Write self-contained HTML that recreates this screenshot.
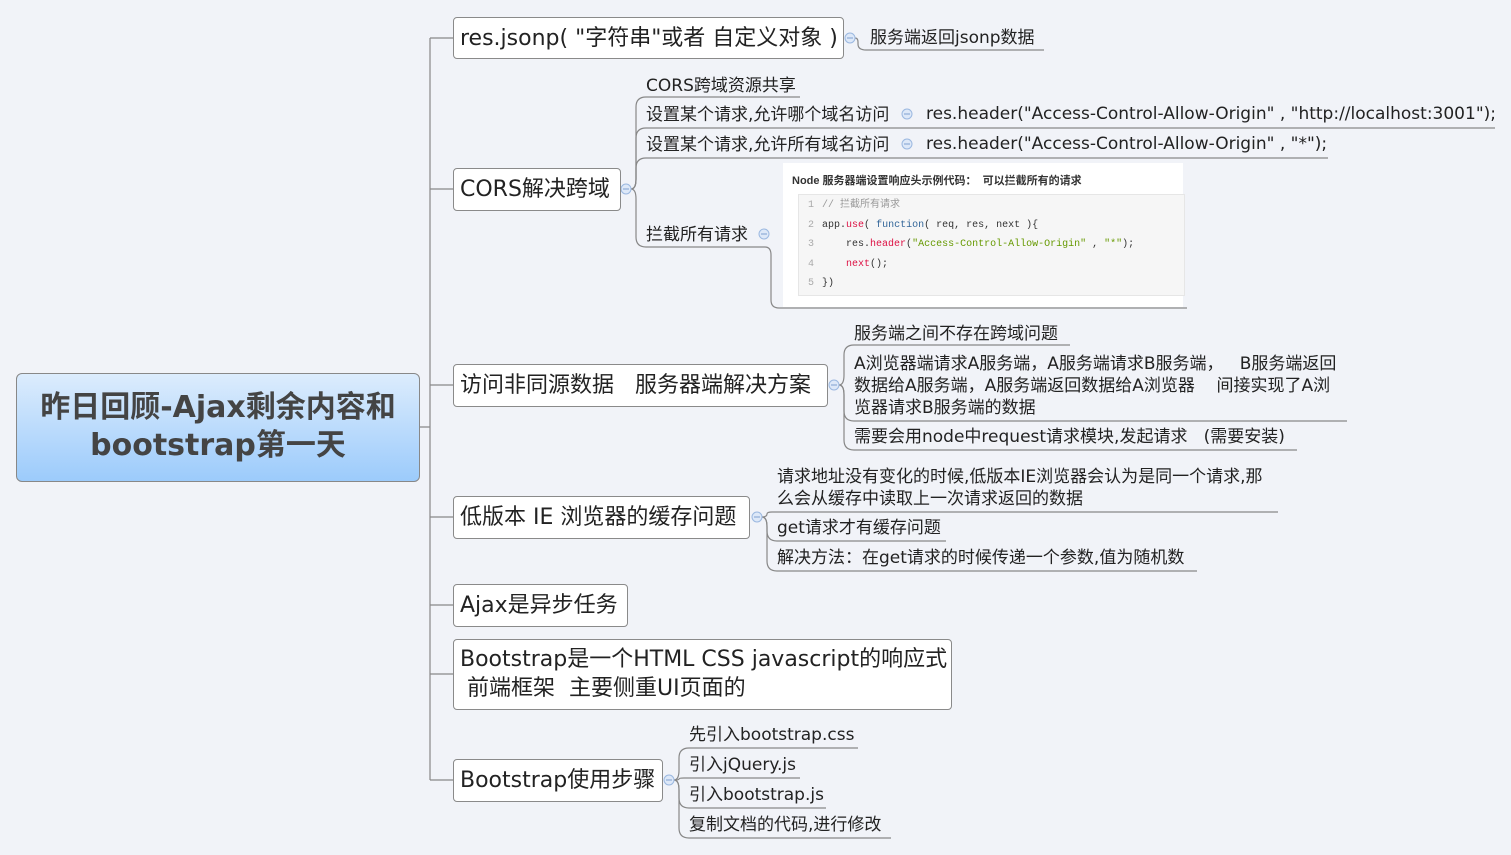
<!DOCTYPE html>
<html><head><meta charset="utf-8"><style>
body{margin:0;width:1511px;height:855px;background:#f1f3f8;position:relative;overflow:hidden;font-family:"DejaVu Sans","Noto Sans CJK SC",sans-serif;color:#222}
.t{position:absolute;white-space:nowrap;font-size:17px;line-height:22px;margin-top:1px}
.n{position:absolute;background:#fff;border:1px solid #8a8a8a;border-radius:4px;box-sizing:border-box;font-size:22px;line-height:30px;padding:6px 6px 4px;white-space:nowrap}
svg{position:absolute;left:0;top:0}
.code{position:absolute;left:783px;top:163px;width:400px;height:144px;background:#fff;font-family:"Liberation Sans","Noto Sans CJK SC",sans-serif}
.code .h{position:absolute;left:9px;top:9px;font-size:11px;font-weight:bold;color:#333}
.code .c{position:absolute;left:15px;top:31px;width:385px;height:99px;background:#f6f6f6;border:1px solid #e6e6e6;font-family:"Liberation Mono","Noto Sans CJK SC",monospace;font-size:10px;line-height:19.5px;padding-top:1px}
.code .c div{padding-left:9px;color:#333;white-space:pre}
.code .c b{font-weight:normal;color:#aaa;margin-right:8px}
</style></head><body>
<svg width="1511" height="855" fill="none" stroke="#888" stroke-width="1.2">
<path d="M420,427 L430,427 M430,38 L430,780"/>
<path d="M430,38H453 M430,189H453 M430,385H453 M430,517H453 M430,605H453 M430,674H453 M430,780H453"/>
<path d="M855,38 Q858,38 858,42 L858,44 Q858,50 866,50 L1044,50"/>
<path d="M631,189 Q636,189 636,179 L636,107 Q636,97 646,97 L800,97"/>
<path d="M631,189 Q636,189 636,179 L636,138 Q636,128 646,128 L1495,128"/>
<path d="M631,189 Q636,189 636,179 L636,168 Q636,158 646,158 L1328,158"/>
<path d="M631,189 Q636,189 636,199 L636,237 Q636,247 646,247 L765,247 Q771,247 771,255 L771,300 Q771,308 779,308 L1187,308"/>
<path d="M839,385 Q844,385 844,375 L844,355 Q844,345 854,345 L1070,345"/>
<path d="M839,385 Q844,385 844,395 L844,411 Q844,421 854,421 L1347,421"/>
<path d="M839,385 Q844,385 844,395 L844,440 Q844,450 854,450 L1297,450"/>
<path d="M762,517 Q767,517 767,514 Q767,512 772,512 L1278,512"/>
<path d="M762,517 Q767,517 767,527 L767,531 Q767,541 777,541 L946,541"/>
<path d="M762,517 Q767,517 767,527 L767,561 Q767,571 777,571 L1197,571"/>
<path d="M674,780 Q679,780 679,770 L679,758 Q679,748 689,748 L858,748"/>
<path d="M674,780 Q679,780 679,779 Q679,778 684,778 L800,778"/>
<path d="M674,780 Q679,780 679,790 L679,798 Q679,808 689,808 L826,808"/>
<path d="M674,780 Q679,780 679,790 L679,828 Q679,838 689,838 L891,838"/>
<g fill="#dde8f8" stroke="#9bb8e0" stroke-width="1">
<circle cx="850" cy="38" r="5"/><circle cx="626" cy="189" r="5"/><circle cx="907" cy="114" r="5"/><circle cx="907" cy="144" r="5"/><circle cx="764" cy="234" r="5"/><circle cx="834" cy="385" r="5"/><circle cx="757" cy="517" r="5"/><circle cx="669" cy="780" r="5"/>
</g>
<g stroke="#7fa0d0" stroke-width="1"><path d="M847,38h6M623,189h6M904,114h6M904,144h6M761,234h6M831,385h6M754,517h6M666,780h6"/></g>
</svg>
<div style="position:absolute;left:16px;top:373px;width:404px;height:109px;box-sizing:border-box;border:1px solid #888;border-radius:6px;background:linear-gradient(#dcecfd,#9ccbfb);text-align:center;font-size:30px;font-weight:bold;line-height:38px;padding-top:15px;color:#444">昨日回顾-Ajax剩余内容和<br>bootstrap第一天</div>
<div class="n" style="left:453px;top:17px;width:391px;height:42px">res.jsonp( "字符串"或者 自定义对象 )</div>
<div class="t" style="left:870px;top:26px">服务端返回jsonp数据</div>
<div class="n" style="left:453px;top:168px;width:168px;height:43px">CORS解决跨域</div>
<div class="t" style="left:646px;top:74px">CORS跨域资源共享</div>
<div class="t" style="left:646px;top:103px">设置某个请求,允许哪个域名访问</div>
<div class="t" style="left:926px;top:102px">res.header("Access-Control-Allow-Origin" , "http://localhost:3001");</div>
<div class="t" style="left:646px;top:133px">设置某个请求,允许所有域名访问</div>
<div class="t" style="left:926px;top:132px">res.header("Access-Control-Allow-Origin" , "*");</div>
<div class="t" style="left:646px;top:223px">拦截所有请求</div>
<div class="code"><div class="h">Node 服务器端设置响应头示例代码：&nbsp; 可以拦截所有的请求</div>
<div class="c"><div><b>1</b><span style="color:#999">// 拦截所有请求</span></div><div><b>2</b>app.<span style="color:#d14">use</span>( <span style="color:#369">function</span>( req, res, next ){</div><div><b>3</b>    res.<span style="color:#d14">header</span>(<span style="color:#690">"Access-Control-Allow-Origin"</span> , <span style="color:#690">"*"</span>);</div><div><b>4</b>    <span style="color:#d14">next</span>();</div><div><b>5</b>})</div></div></div>
<div class="n" style="left:453px;top:364px;width:375px;height:43px">访问非同源数据&nbsp;&nbsp; 服务器端解决方案</div>
<div class="t" style="left:854px;top:322px">服务端之间不存在跨域问题</div>
<div class="t" style="left:854px;top:352px">A浏览器端请求A服务端，A服务端请求B服务端，&nbsp;&nbsp; B服务端返回<br>数据给A服务端，A服务端返回数据给A浏览器&nbsp;&nbsp;&nbsp; 间接实现了A浏<br>览器请求B服务端的数据</div>
<div class="t" style="left:854px;top:425px">需要会用node中request请求模块,发起请求&nbsp;&nbsp; (需要安装)</div>
<div class="n" style="left:453px;top:496px;width:297px;height:43px">低版本 IE 浏览器的缓存问题</div>
<div class="t" style="left:777px;top:465px">请求地址没有变化的时候,低版本IE浏览器会认为是同一个请求,那<br>么会从缓存中读取上一次请求返回的数据</div>
<div class="t" style="left:777px;top:516px">get请求才有缓存问题</div>
<div class="t" style="left:777px;top:546px">解决方法：在get请求的时候传递一个参数,值为随机数</div>
<div class="n" style="left:453px;top:584px;width:175px;height:43px">Ajax是异步任务</div>
<div class="n" style="left:453px;top:639px;width:499px;height:71px;line-height:29px;padding-top:5px">Bootstrap是一个HTML CSS javascript的响应式<br>&nbsp;前端框架&nbsp; 主要侧重UI页面的</div>
<div class="n" style="left:453px;top:759px;width:210px;height:43px">Bootstrap使用步骤</div>
<div class="t" style="left:689px;top:723px">先引入bootstrap.css</div>
<div class="t" style="left:689px;top:753px">引入jQuery.js</div>
<div class="t" style="left:689px;top:783px">引入bootstrap.js</div>
<div class="t" style="left:689px;top:813px">复制文档的代码,进行修改</div>
</body></html>
